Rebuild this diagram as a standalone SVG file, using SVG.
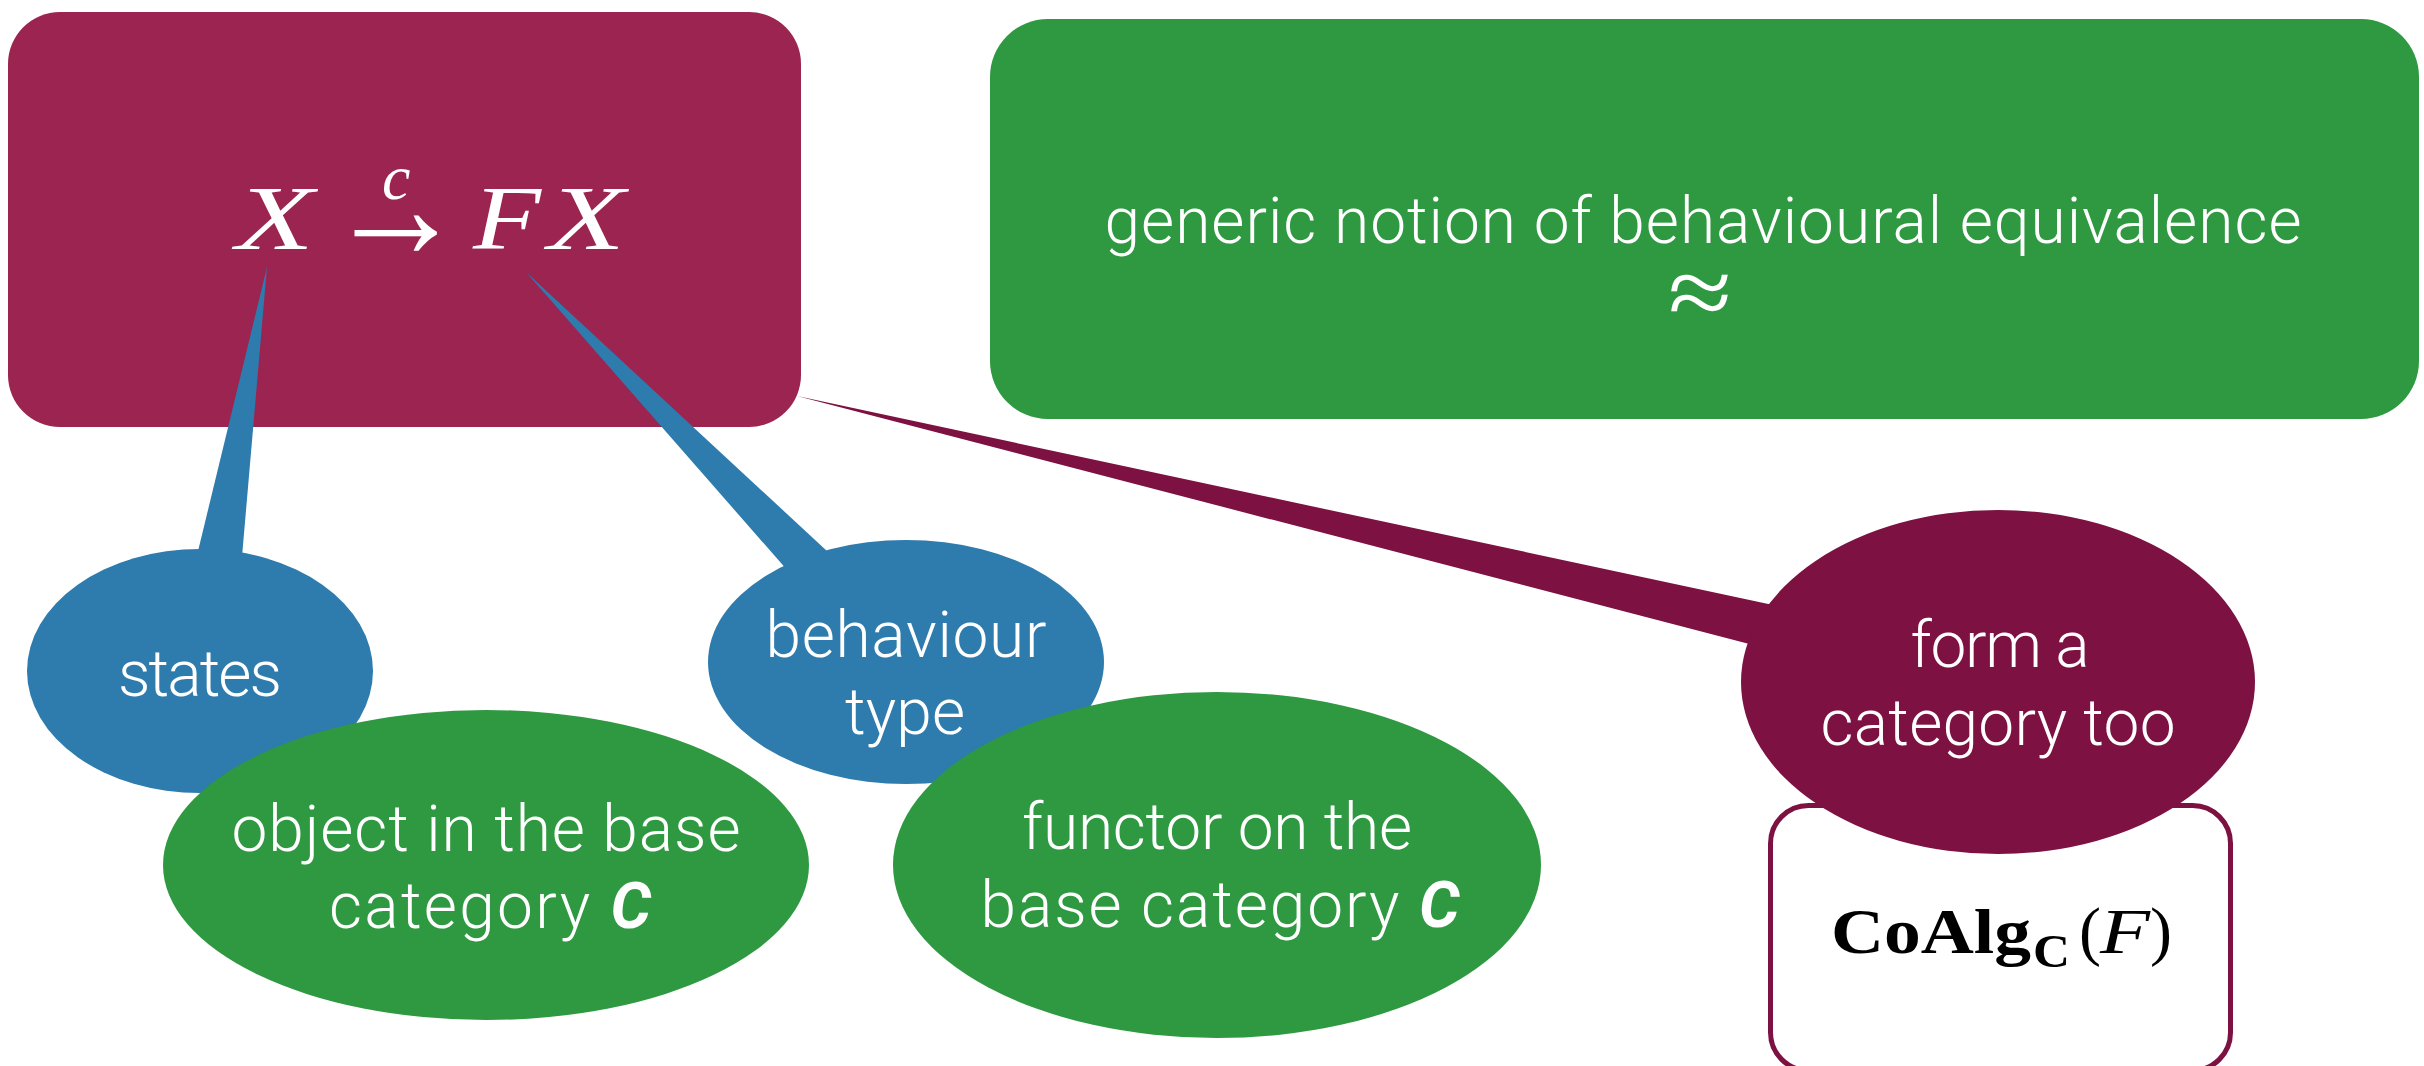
<svg xmlns="http://www.w3.org/2000/svg" width="2424" height="1066" viewBox="0 0 2424 1066">
<style>
.lbl{font-family:Roboto,"Liberation Sans",sans-serif;font-weight:300;fill:#fff;text-anchor:middle;font-size:64px}
.math{font-family:"Liberation Serif",serif;font-style:italic;fill:#fff}
.bc{font-weight:700;font-style:italic}
.cm{font-family:"Liberation Serif",serif;fill:#000}
</style>
<rect width="2424" height="1066" fill="#fff"/>
<g id="node-coalgebra">
<rect x="8" y="12" width="793" height="415" rx="52" ry="52" fill="#9b2450"/>
<text class="math" font-size="92" x="236" y="249" textLength="78" lengthAdjust="spacingAndGlyphs">X</text>
<text class="math" font-size="64" x="382" y="199">c</text>
<text font-family="Liberation Serif,serif" fill="#fff" font-size="150" x="326" y="258" textLength="139" lengthAdjust="spacingAndGlyphs">→</text>
<text class="math" font-size="92" x="473" y="249" textLength="68" lengthAdjust="spacingAndGlyphs">F</text>
<text class="math" font-size="92" x="548" y="249" textLength="77" lengthAdjust="spacingAndGlyphs">X</text>
</g>
<g id="node-equivalence">
<rect x="990" y="19" width="1429" height="400" rx="58" ry="58" fill="#2e9940"/>
<text class="lbl" x="1703" y="243" textLength="1197">generic notion of behavioural equivalence</text>
<text font-family="Liberation Serif,serif" fill="#fff" font-size="100" x="1668" y="326" textLength="64" lengthAdjust="spacingAndGlyphs">≈</text>
</g>
<g id="node-coalg-category">
<rect x="1770.5" y="805.5" width="460" height="265" rx="38" ry="38" fill="#fff" stroke="#7c1142" stroke-width="5"/>
<text class="cm" font-size="64" x="1831" y="953" font-weight="700" textLength="200" lengthAdjust="spacingAndGlyphs">CoAlg</text>
<text class="cm" font-size="46" x="2033" y="967" font-weight="700" textLength="37" lengthAdjust="spacingAndGlyphs">C</text>
<text class="cm" font-size="66" x="2079" y="953">(</text>
<text class="cm" font-size="64" x="2100" y="953" font-style="italic" textLength="50" lengthAdjust="spacingAndGlyphs">F</text>
<text class="cm" font-size="66" x="2150" y="953">)</text>
</g>
<g id="connectors">
<polygon points="267,267 191,580 240,580" fill="#2e7bae"/>
<polygon points="526,272 809,595 855,577" fill="#2e7bae"/>
<polygon points="797,396 1815,614 1792,655" fill="#7c1142"/>
</g>
<g id="node-states">
<ellipse cx="200" cy="671" rx="173" ry="122" fill="#2e7bae"/>
<text class="lbl" x="200" y="696" textLength="164">states</text>
</g>
<g id="node-behaviour">
<ellipse cx="906" cy="662" rx="198" ry="122" fill="#2e7bae"/>
<text class="lbl" x="906" y="657" textLength="281">behaviour</text>
<text class="lbl" x="905" y="734" textLength="120">type</text>
</g>
<g id="node-object">
<ellipse cx="486" cy="865" rx="323" ry="155" fill="#2e9940"/>
<text class="lbl" x="486" y="851" textLength="509">object in the base</text>
<text class="lbl" x="490" y="928" textLength="322">category <tspan class="bc">C</tspan></text>
</g>
<g id="node-functor">
<ellipse cx="1217" cy="865" rx="324" ry="173" fill="#2e9940"/>
<text class="lbl" x="1217" y="849" textLength="390">functor on the</text>
<text class="lbl" x="1220" y="927" textLength="479">base category <tspan class="bc">C</tspan></text>
</g>
<g id="node-form-category">
<ellipse cx="1998" cy="682" rx="257" ry="172" fill="#7c1142"/>
<text class="lbl" x="2000" y="667" textLength="179">form a</text>
<text class="lbl" x="1998" y="745" textLength="355">category too</text>
</g>
</svg>
